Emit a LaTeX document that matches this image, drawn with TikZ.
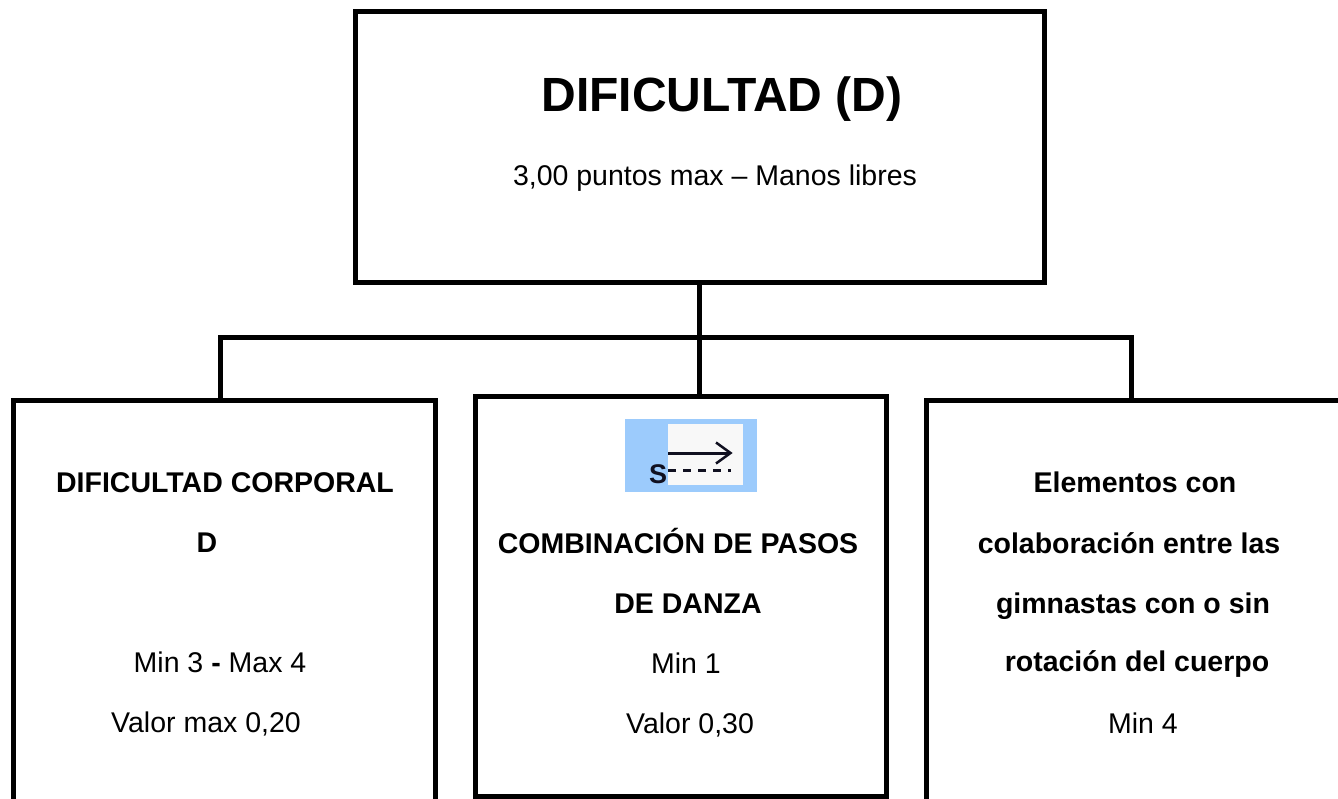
\documentclass[tikz,border=0pt]{standalone}
\usepackage{fontspec}
\setmainfont{Liberation Sans}
\definecolor{iconblue}{HTML}{9CCBFC}
\definecolor{iconwhite}{HTML}{F8F8F8}
\definecolor{iconink}{HTML}{101020}
\begin{document}
\begin{tikzpicture}[x=1pt,y=-1pt,line join=miter,
  box/.style={draw=black,line width=5pt,inner sep=0pt,fill=none},
  link/.style={draw=black,line width=5pt},
  txt/.style={anchor=base,inner sep=0pt,font=\fontsize{28.5}{34}\selectfont},
  btxt/.style={anchor=base,inner sep=0pt,font=\fontsize{28.5}{34}\selectfont\bfseries}]
\path[use as bounding box] (0,0) rectangle (1338,799);
\clip (0,0) rectangle (1338,799);
% boxes
\node[box,minimum width=689pt,minimum height=271pt] (top) at (699.5,147.5) {};
\node[box,minimum width=422pt,minimum height=440pt] (lbox) at (224,620) {};
\node[box,minimum width=411pt,minimum height=400pt] (mbox) at (680.5,596) {};
\node[box,minimum width=440pt,minimum height=440pt] (rbox) at (1146,620) {};
% connectors
\coordinate (bl) at (220,338);
\coordinate (br) at (1131,338);
\draw[link] (top.south) -- (top.south |- mbox.north);
\draw[link] (lbox.north -| bl) -- (bl) -- (br) -- (rbox.north -| br);
% top texts
\node[anchor=base,inner sep=0pt,font=\fontsize{48}{54}\selectfont\bfseries] (title) at (722,112) {DIFICULTAD (D)};
\node[txt] (sub) at (715,186) {3,00 puntos max – Manos libres};
% left texts
\node[btxt] (l1) at (225,492) {DIFICULTAD CORPORAL};
\node[btxt] (l2) at (207,552) {D};
\node[txt] (l3) at (220,672) {Min 3 \textbf{-} Max 4};
\node[txt] (l4) at (206,732) {Valor max 0,20};
% middle icon
\node[fill=iconblue,draw=none,minimum width=132pt,minimum height=73pt,inner sep=0pt] (icon) at (691,455.5) {};
\node[fill=iconwhite,draw=none,minimum width=75pt,minimum height=61pt,inner sep=0pt] (iconin) at (705.5,454.5) {};
\draw[line width=3pt,iconink] (668,453) -- (730,453);
\draw[line width=2.5pt,iconink,line cap=butt] (716,442.5) -- (730.5,453) -- (716,463.5);
\draw[line width=3pt,iconink,dash pattern=on 8pt off 7pt] (668,470) -- (731,470);
\node[anchor=base,inner sep=0pt,text=iconink,font=\fontsize{27}{32}\selectfont\bfseries] (iconS) at (658,483.5) {S};
% middle texts
\node[btxt] (m1) at (678,553) {COMBINACIÓN DE PASOS};
\node[btxt] (m2) at (688,613) {DE DANZA};
\node[txt] (m3) at (686,673) {Min 1};
\node[txt] (m4) at (690,733) {Valor 0,30};
% right texts
\node[btxt] (r1) at (1135,492) {Elementos con};
\node[btxt] (r2) at (1129,553) {colaboración entre las};
\node[btxt] (r3) at (1133,613) {gimnastas con o sin};
\node[btxt] (r4) at (1137,671) {rotación del cuerpo};
\node[txt] (r5) at (1143,733) {Min 4};
\end{tikzpicture}
\end{document}
